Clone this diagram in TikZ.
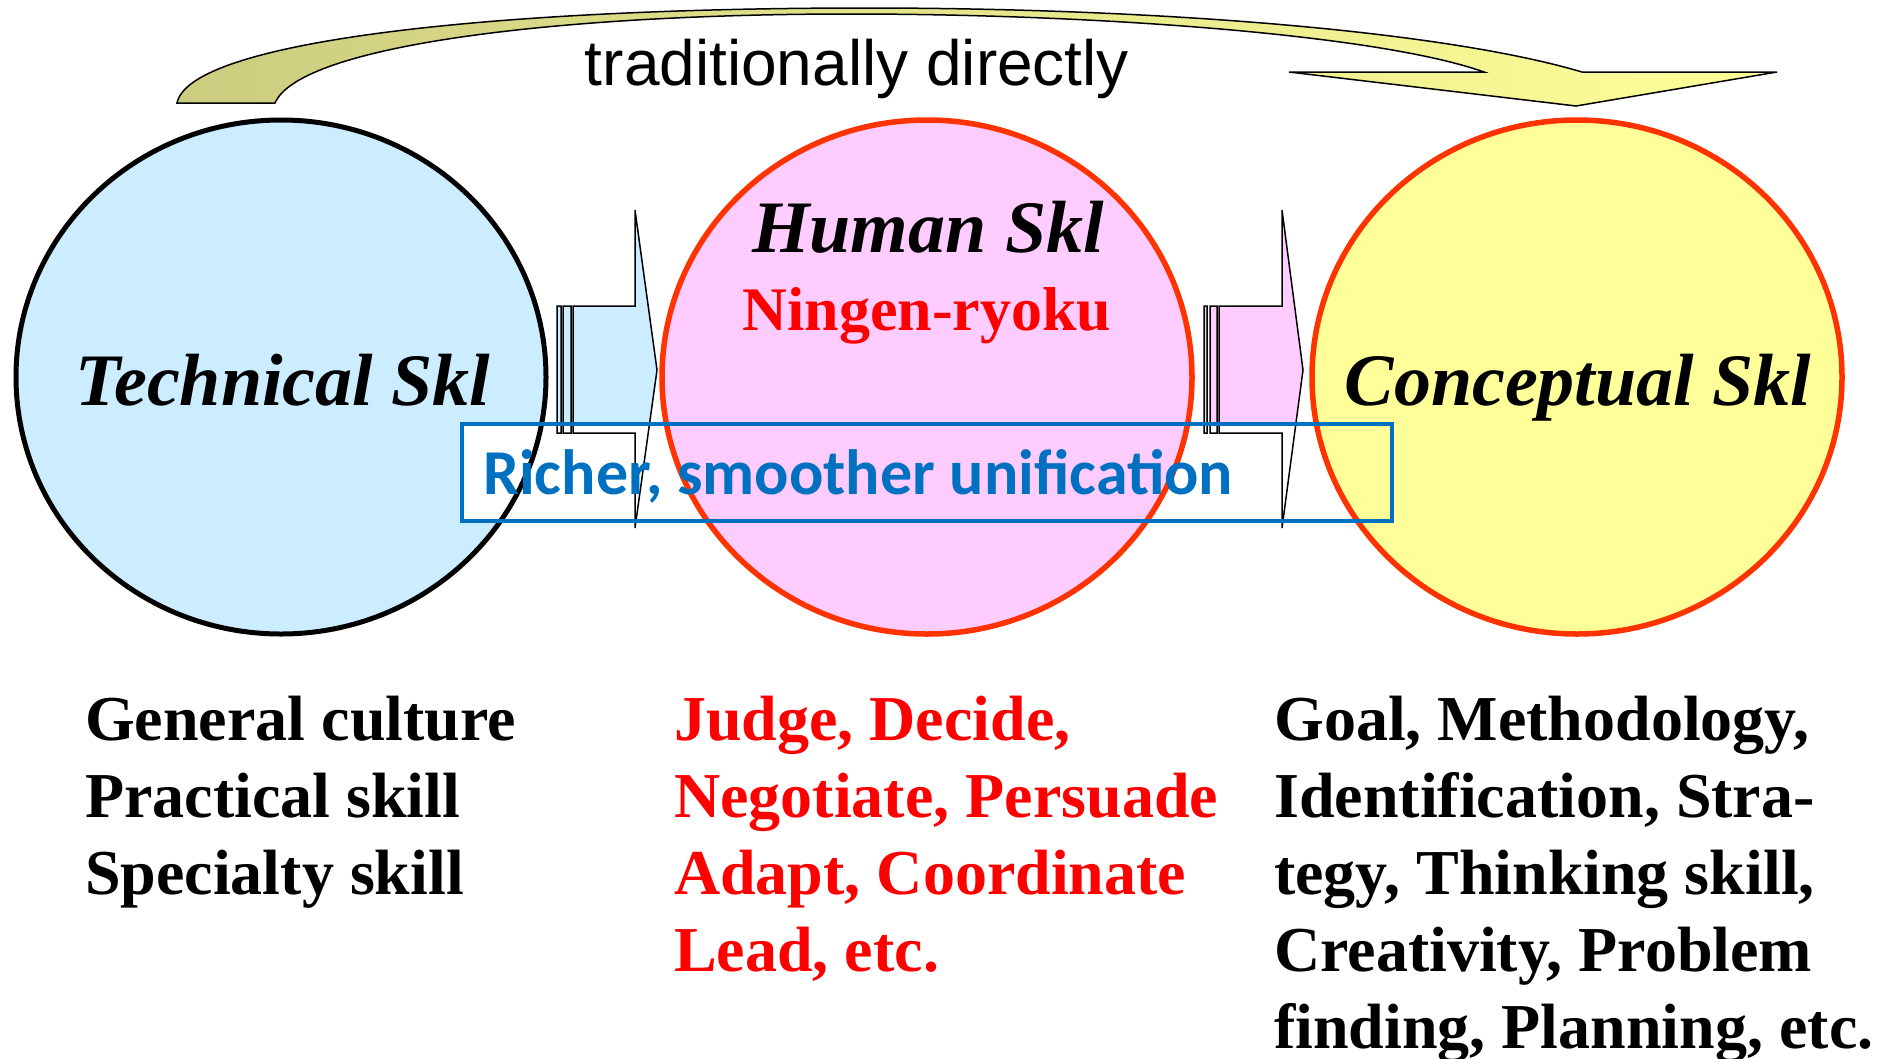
\documentclass[tikz,border=0pt]{standalone}
\usepackage{fontspec}
\setmainfont{Liberation Serif}
\newfontfamily\arialfont{Liberation Sans}
\newfontfamily\calibrifont{Carlito}
\usetikzlibrary{shapes.geometric}

\definecolor{techblue}{RGB}{204,236,255}
\definecolor{humanpink}{RGB}{255,204,255}
\definecolor{conceptyellow}{RGB}{255,255,153}
\definecolor{arcolive}{RGB}{204,204,128}
\definecolor{rimred}{RGB}{255,51,0}
\definecolor{boxblue}{RGB}{0,112,192}

\tikzset{
  skill/.style={ellipse, minimum width=530pt, minimum height=514pt, inner sep=0pt},
  title/.style={font=\fontsize{74}{74}\selectfont\bfseries\itshape, anchor=base, inner sep=0pt},
  listtext/.style={font=\fontsize{64}{64}\selectfont\bfseries, anchor=base west, inner sep=0pt},
  stripe/.style={draw=black, line width=1.5pt},
}

\begin{document}
\begin{tikzpicture}[x=1pt, y=-1pt]
  \useasboundingbox (0,0) rectangle (1888,1058);

  % the long way round
  \shadedraw[left color=arcolive, right color=conceptyellow, draw=black, line width=1.5pt]
    (177,103) .. controls (190,40) and (500,8) .. (866,8)
    .. controls (1150,8) and (1440,30) .. (1582,72)
    -- (1777,72) -- (1576,106) -- (1289,72) -- (1484,72)
    .. controls (1380,35) and (1100,14) .. (850,14)
    .. controls (560,14) and (300,45) .. (275,103) -- cycle;
  \node[font=\arialfont\fontsize{64}{64}\selectfont, anchor=base, inner sep=0pt] (direct) at (857,85) {traditionally directly};

  \node[skill, fill=techblue] (tech) at (281,377) {};

  % striped arrows
  \path[save path=\arrowA] (573,306) -- (635,306) -- (635,210) -- (657,370) -- (635,528) -- (635,433) -- (573,433) -- cycle
    (557,306) rectangle (561,433) (563,306) rectangle (571,433);
  \path[save path=\arrowB] (1219,306) -- (1282,306) -- (1282,210) -- (1303,370) -- (1282,528) -- (1282,433) -- (1219,433) -- cycle
    (1204,306) rectangle (1207,433) (1210,306) rectangle (1217,433);
  \fill[techblue, use path=\arrowA];
  \fill[humanpink, use path=\arrowB];

  \fill[white] (462,424) rectangle (1392,521);

  \draw[black, line width=5pt] (tech.center) ellipse [x radius=265, y radius=257];
  \draw[stripe, use path=\arrowA];
  \draw[stripe, use path=\arrowB];

  \node[skill, fill=humanpink, draw=rimred, line width=5.5pt] (human) at (927,377) {};
  \node[skill, fill=conceptyellow, draw=rimred, line width=5.5pt] (concept) at (1577,377) {};

  \node[draw=boxblue, line width=4.5pt, minimum width=930pt, minimum height=97pt, inner sep=0pt] (unify) at (927,472.5) {};
  \node[font=\calibrifont\fontsize{64}{64}\selectfont\bfseries, text=boxblue, anchor=base west, inner sep=0pt] (unify-text) at (483,494) {Richer, smoother unification};

  \node[title] (tech-name) at (283,405) {Technical Skl};
  \node[title] (human-name) at (928,252) {Human Skl};
  \node[font=\fontsize{62}{62}\selectfont\bfseries, text=red, anchor=base, inner sep=0pt] (human-jp) at (927,330) {Ningen-ryoku};
  \node[title] (concept-name) at (1578,405) {Conceptual Skl};

  % what each skill holds
  \foreach \txt [count=\i from 0] in {General culture, Practical skill, Specialty skill}
    \node[listtext] (tech-\i) at (85, 740+77*\i) {\txt};
  \foreach \txt [count=\i from 0] in {{Judge, Decide,}, {Negotiate, Persuade}, {Adapt, Coordinate}, {Lead, etc.}}
    \node[listtext, text=red] (human-\i) at (674, 740+77*\i) {\txt};
  \foreach \txt [count=\i from 0] in {{Goal, Methodology,}, {Identification, Stra-}, {tegy, Thinking skill,}, {Creativity, Problem}, {finding, Planning, etc.}}
    \node[listtext] (concept-\i) at (1274, 740+77*\i) {\txt};
\end{tikzpicture}
\end{document}
